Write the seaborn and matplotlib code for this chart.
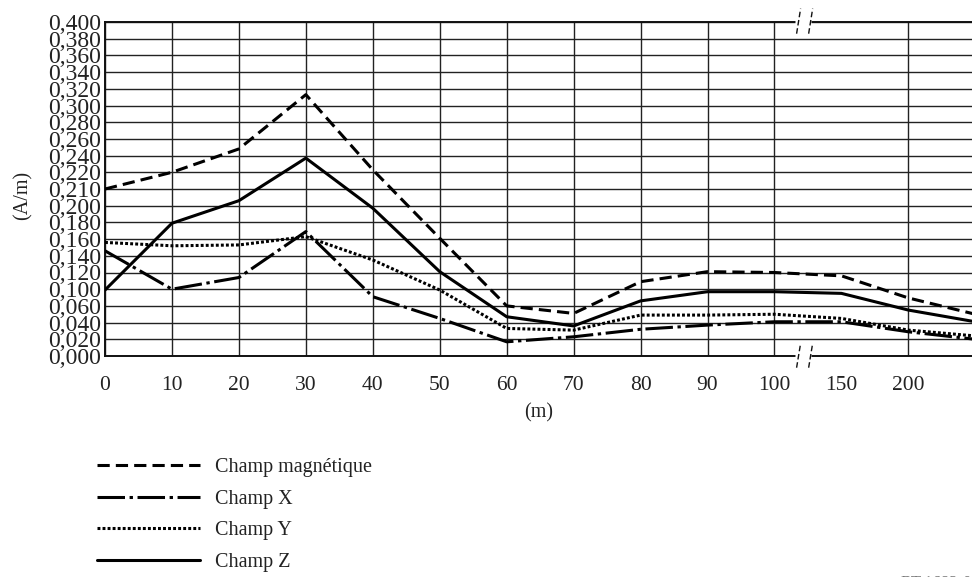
import numpy as np
import pandas as pd
import seaborn as sns
import matplotlib
matplotlib.use("Agg")
import matplotlib.pyplot as plt
from matplotlib.lines import Line2D
from matplotlib.transforms import blended_transform_factory

# Distance from the source (m) and measured field strength (A/m)
distance = [0, 10, 20, 30, 40, 50, 60, 70, 80, 90, 100, 150, 200, 250]
champ_magnetique = [0.210, 0.220, 0.248, 0.313, 0.223, 0.161, 0.060, 0.051,
                    0.109, 0.121, 0.120, 0.116, 0.079, 0.050]
champ_x = [0.146, 0.100, 0.114, 0.169, 0.082, 0.045, 0.017, 0.023,
           0.032, 0.037, 0.041, 0.041, 0.029, 0.020]
champ_y = [0.156, 0.152, 0.153, 0.163, 0.135, 0.098, 0.033, 0.031,
           0.049, 0.049, 0.050, 0.045, 0.031, 0.024]
champ_z = [0.098, 0.179, 0.203, 0.237, 0.197, 0.121, 0.047, 0.036,
           0.072, 0.094, 0.094, 0.090, 0.055, 0.041]

# Graduations of the (non-linear) value axis
y_ticks = [0.000, 0.020, 0.040, 0.060, 0.100, 0.120, 0.140, 0.160, 0.180,
           0.200, 0.210, 0.220, 0.240, 0.260, 0.280, 0.300, 0.320, 0.340,
           0.360, 0.380, 0.400]
x_ticks = [0, 10, 20, 30, 40, 50, 60, 70, 80, 90, 100, 150, 200]
x_grid = [0, 10, 20, 30, 40, 50, 60, 70, 80, 90, 100, 200]

series_names = ["Champ magnétique", "Champ X", "Champ Y", "Champ Z"]
series_values = [champ_magnetique, champ_x, champ_y, champ_z]

df = pd.DataFrame({
    "distance": np.tile(distance, len(series_names)),
    "valeur": np.concatenate(series_values),
    "serie": np.repeat(series_names, len(distance)),
})

sns.set_theme(style="white")
plt.rcParams["font.family"] = ["Liberation Serif", "DejaVu Serif"]

fig = plt.figure(figsize=(9.72, 5.77), dpi=100)
ax = fig.add_axes([105 / 972, 1 - 356 / 577, 1 - 105 / 972, 334 / 577])

# Each graduation gets one equal row / column
y_rows = np.arange(len(y_ticks), dtype=float)
x_cols = np.arange(len(distance), dtype=float)


def y_fwd(v):
    return np.interp(v, y_ticks, y_rows)


def y_inv(r):
    return np.interp(r, y_rows, y_ticks)


def x_fwd(v):
    return np.interp(v, distance, x_cols)


def x_inv(c):
    return np.interp(c, x_cols, distance)


ax.set_yscale("function", functions=(y_fwd, y_inv))
ax.set_xscale("function", functions=(x_fwd, x_inv))

lw = 2.2
styles = {
    "Champ magnétique": dict(linestyle=(0, (4.0, 2.0)), linewidth=lw),
    "Champ X": dict(linestyle=(0, (9.0, 1.5, 1.1, 1.5)), linewidth=lw),
    "Champ Y": dict(linestyle=(0, (0.95, 0.7)), linewidth=lw),
    "Champ Z": dict(linestyle="-", linewidth=lw),
}

for name in series_names:
    sns.lineplot(data=df[df["serie"] == name], x="distance", y="valeur",
                 ax=ax, color="black", legend=False, zorder=4,
                 **styles[name])

ax.set_xlim(0, x_inv(12.95))
ax.set_ylim(0, 0.4)
ax.set_yticks(y_ticks)
ax.set_yticklabels([f"{v:.3f}".replace(".", ",") for v in y_ticks])
ax.set_xticks(x_ticks)
ax.set_xticklabels([str(v) for v in x_ticks])
ax.minorticks_off()
ax.tick_params(axis="y", length=0, pad=3, labelsize=17, colors="#222222")
ax.tick_params(axis="x", length=0, pad=14.5, labelsize=15.5, colors="#222222")

ax.grid(axis="y", color="#222222", linewidth=1.0)
ax.grid(axis="x", visible=False)
for d in x_grid:
    ax.axvline(d, color="#222222", linewidth=1.0, zorder=1)

for side in ["left", "bottom", "top"]:
    ax.spines[side].set_color("#111111")
    ax.spines[side].set_linewidth(1.4)
ax.spines["right"].set_visible(False)

ax.set_xlabel("(m)", fontsize=14.5, labelpad=6, color="#222222")
ax.set_ylabel("(A/m)", fontsize=14.5, color="#222222")
ax.yaxis.set_label_coords(-0.084, 0.482)

# Axis break between 100 m and 150 m
blend = blended_transform_factory(ax.transData, ax.transAxes)
gap_lo, gap_hi = x_inv(10.31), x_inv(10.55)
for yy in (0.0, 1.0):
    ax.plot([gap_lo, gap_hi], [yy, yy], transform=blend, color="white",
            linewidth=3.5, clip_on=False, zorder=6, solid_capstyle="butt")
for c0 in (10.33, 10.51):
    x0, x1 = x_inv(c0), x_inv(c0 + 0.06)
    ax.plot([x0, x1], [0.965, 1.04], transform=blend, color="#111111",
            linewidth=1.0, linestyle=(0, (4, 2)), clip_on=False, zorder=7)
    ax.plot([x0, x1], [-0.035, 0.038], transform=blend, color="#111111",
            linewidth=1.0, linestyle=(0, (4, 2)), clip_on=False, zorder=7)

handles = [Line2D([], [], color="black", **styles[n]) for n in series_names]
fig.legend(handles, series_names, loc="upper left",
           bbox_to_anchor=(97 / 972, 1 - 458 / 577), frameon=False,
           fontsize=14.5, handlelength=5.1, handletextpad=0.75,
           labelspacing=0.62, borderpad=0, borderaxespad=0,
           labelcolor="#222222")

fig.text(901 / 972, 0.004, "BT.1683-05", fontsize=12, color="#777777",
         ha="left", va="top")

fig.savefig("out.png", dpi=100)
